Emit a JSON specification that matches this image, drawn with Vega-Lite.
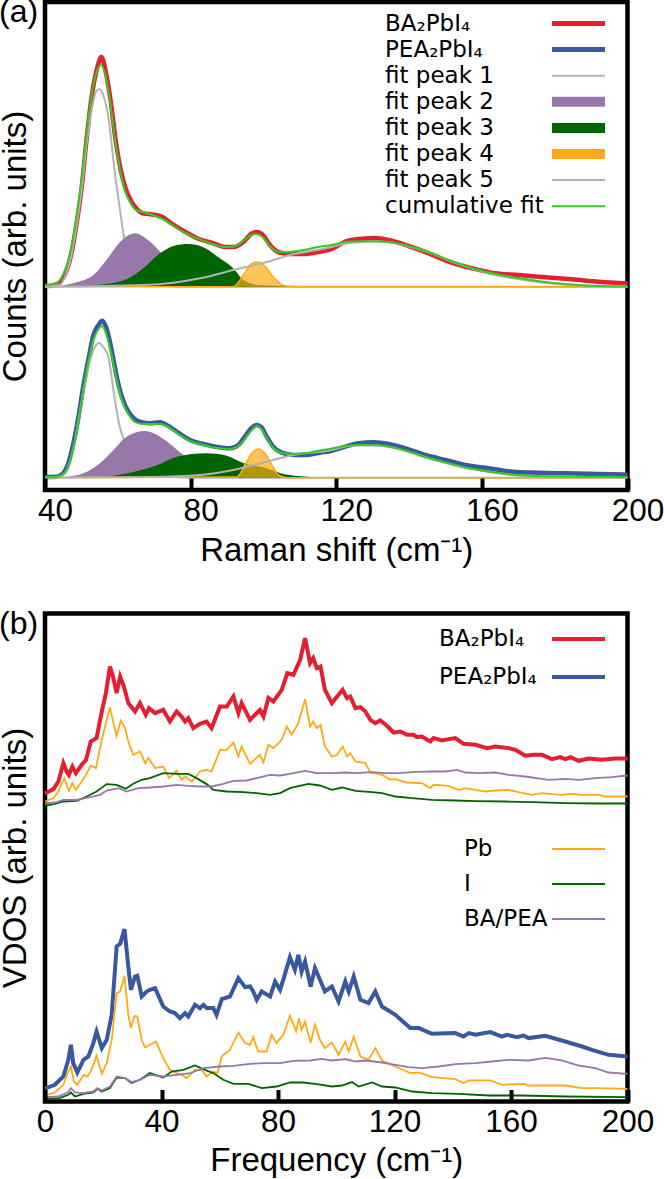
{"$schema":"https://vega.github.io/schema/vega-lite/v6.json","background":"white","padding":{"left":-4,"top":-7,"right":0,"bottom":0},"bounds":"flush","spacing":123.5,"resolve":{"scale":{"color":"independent","stroke":"independent"},"legend":{"color":"independent","stroke":"independent"}},"config":{"view":{"stroke":"black","strokeWidth":4.5},"axis":{"labelFont":"Liberation Sans","titleFont":"Liberation Sans","labelFontSize":31.5,"titleFontSize":33,"titleFontWeight":"normal","labelColor":"black","titleColor":"black","grid":false,"domain":false,"ticks":true,"tickColor":"black","tickWidth":4,"tickSize":12,"labelPadding":5},"legend":{"labelFont":"DejaVu Sans","labelFontSize":23,"labelColor":"black","labelAlign":"left","labelLimit":400,"symbolType":"stroke","title":null}},"vconcat":[{"width":582.5,"height":488,"title":{"text":"(a)","anchor":"start","frame":"group","font":"Liberation Sans","fontSize":32,"fontWeight":"normal","color":"black","baseline":"top","dx":-46,"dy":27,"offset":0},"data":{"values":[
{"s":"BA₂PbI₄","b":"u","x":40,"y":204},{"s":"BA₂PbI₄","b":"u","x":41,"y":204},{"s":"BA₂PbI₄","b":"u","x":42.7,"y":205},{"s":"BA₂PbI₄","b":"u","x":44.6,"y":210},{"s":"BA₂PbI₄","b":"u","x":46,"y":220},{"s":"BA₂PbI₄","b":"u","x":47.3,"y":237},{"s":"BA₂PbI₄","b":"u","x":48.7,"y":267},{"s":"BA₂PbI₄","b":"u","x":50.1,"y":303},{"s":"BA₂PbI₄","b":"u","x":51.4,"y":350},{"s":"BA₂PbI₄","b":"u","x":52.8,"y":393},{"s":"BA₂PbI₄","b":"u","x":54.2,"y":420},{"s":"BA₂PbI₄","b":"u","x":55.5,"y":433},{"s":"BA₂PbI₄","b":"u","x":56.8,"y":416},{"s":"BA₂PbI₄","b":"u","x":58,"y":390},{"s":"BA₂PbI₄","b":"u","x":59.4,"y":350},{"s":"BA₂PbI₄","b":"u","x":60.8,"y":320},{"s":"BA₂PbI₄","b":"u","x":62.1,"y":302},{"s":"BA₂PbI₄","b":"u","x":63.5,"y":290},{"s":"BA₂PbI₄","b":"u","x":65,"y":282},{"s":"BA₂PbI₄","b":"u","x":67,"y":276.5},{"s":"BA₂PbI₄","b":"u","x":69.5,"y":275.5},{"s":"BA₂PbI₄","b":"u","x":72.3,"y":273},{"s":"BA₂PbI₄","b":"u","x":75,"y":266},{"s":"BA₂PbI₄","b":"u","x":78.6,"y":258},{"s":"BA₂PbI₄","b":"u","x":82.3,"y":251},{"s":"BA₂PbI₄","b":"u","x":86,"y":247},{"s":"BA₂PbI₄","b":"u","x":89.6,"y":243},{"s":"BA₂PbI₄","b":"u","x":92,"y":243},{"s":"BA₂PbI₄","b":"u","x":94.5,"y":248},{"s":"BA₂PbI₄","b":"u","x":96.6,"y":256},{"s":"BA₂PbI₄","b":"u","x":98.2,"y":258},{"s":"BA₂PbI₄","b":"u","x":100,"y":254.5},{"s":"BA₂PbI₄","b":"u","x":101.8,"y":245},{"s":"BA₂PbI₄","b":"u","x":104,"y":238},{"s":"BA₂PbI₄","b":"u","x":107.3,"y":236},{"s":"BA₂PbI₄","b":"u","x":111,"y":236},{"s":"BA₂PbI₄","b":"u","x":114.6,"y":237.7},{"s":"BA₂PbI₄","b":"u","x":118.8,"y":241},{"s":"BA₂PbI₄","b":"u","x":122.5,"y":248.3},{"s":"BA₂PbI₄","b":"u","x":127.1,"y":251.3},{"s":"BA₂PbI₄","b":"u","x":130.8,"y":252},{"s":"BA₂PbI₄","b":"u","x":134.4,"y":250},{"s":"BA₂PbI₄","b":"u","x":139.9,"y":244},{"s":"BA₂PbI₄","b":"u","x":145.4,"y":236.7},{"s":"BA₂PbI₄","b":"u","x":150.9,"y":228.3},{"s":"BA₂PbI₄","b":"u","x":157.3,"y":221.7},{"s":"BA₂PbI₄","b":"u","x":163.7,"y":216.7},{"s":"BA₂PbI₄","b":"u","x":170.1,"y":215},{"s":"BA₂PbI₄","b":"u","x":177.5,"y":212.7},{"s":"BA₂PbI₄","b":"u","x":184.8,"y":210.7},{"s":"BA₂PbI₄","b":"u","x":192.1,"y":208.3},{"s":"BA₂PbI₄","b":"u","x":200,"y":206.5},
{"s":"PEA₂PbI₄","b":"l","x":40,"y":13},{"s":"PEA₂PbI₄","b":"l","x":43.2,"y":13.3},{"s":"PEA₂PbI₄","b":"l","x":45,"y":16.7},{"s":"PEA₂PbI₄","b":"l","x":46.4,"y":26.7},{"s":"PEA₂PbI₄","b":"l","x":47.8,"y":46.7},{"s":"PEA₂PbI₄","b":"l","x":49.2,"y":73.3},{"s":"PEA₂PbI₄","b":"l","x":50.5,"y":103.3},{"s":"PEA₂PbI₄","b":"l","x":51.9,"y":130},{"s":"PEA₂PbI₄","b":"l","x":53.3,"y":155},{"s":"PEA₂PbI₄","b":"l","x":54.7,"y":165},{"s":"PEA₂PbI₄","b":"l","x":55.7,"y":169.3},{"s":"PEA₂PbI₄","b":"l","x":56.9,"y":161.7},{"s":"PEA₂PbI₄","b":"l","x":58.3,"y":140},{"s":"PEA₂PbI₄","b":"l","x":59.7,"y":113.3},{"s":"PEA₂PbI₄","b":"l","x":61.1,"y":93.3},{"s":"PEA₂PbI₄","b":"l","x":62.9,"y":78.3},{"s":"PEA₂PbI₄","b":"l","x":64.7,"y":70.7},{"s":"PEA₂PbI₄","b":"l","x":66.6,"y":67.7},{"s":"PEA₂PbI₄","b":"l","x":68.8,"y":66.7},{"s":"PEA₂PbI₄","b":"l","x":71.6,"y":67.7},{"s":"PEA₂PbI₄","b":"l","x":73.9,"y":64},{"s":"PEA₂PbI₄","b":"l","x":76.6,"y":57.3},{"s":"PEA₂PbI₄","b":"l","x":79.8,"y":50},{"s":"PEA₂PbI₄","b":"l","x":83.5,"y":46},{"s":"PEA₂PbI₄","b":"l","x":87.2,"y":43},{"s":"PEA₂PbI₄","b":"l","x":90.8,"y":41.7},{"s":"PEA₂PbI₄","b":"l","x":93.1,"y":45},{"s":"PEA₂PbI₄","b":"l","x":94.9,"y":53.3},{"s":"PEA₂PbI₄","b":"l","x":96.8,"y":62.3},{"s":"PEA₂PbI₄","b":"l","x":98.2,"y":65},{"s":"PEA₂PbI₄","b":"l","x":99.5,"y":62.7},{"s":"PEA₂PbI₄","b":"l","x":100.9,"y":53.3},{"s":"PEA₂PbI₄","b":"l","x":102.7,"y":43.3},{"s":"PEA₂PbI₄","b":"l","x":105,"y":37.3},{"s":"PEA₂PbI₄","b":"l","x":108.2,"y":35},{"s":"PEA₂PbI₄","b":"l","x":111.9,"y":35},{"s":"PEA₂PbI₄","b":"l","x":115.5,"y":37.3},{"s":"PEA₂PbI₄","b":"l","x":118.8,"y":39.3},{"s":"PEA₂PbI₄","b":"l","x":122.5,"y":43.3},{"s":"PEA₂PbI₄","b":"l","x":126.2,"y":46.7},{"s":"PEA₂PbI₄","b":"l","x":130.3,"y":47.7},{"s":"PEA₂PbI₄","b":"l","x":134.4,"y":46},{"s":"PEA₂PbI₄","b":"l","x":139,"y":41.7},{"s":"PEA₂PbI₄","b":"l","x":144.5,"y":35},{"s":"PEA₂PbI₄","b":"l","x":150,"y":30},{"s":"PEA₂PbI₄","b":"l","x":155.5,"y":25},{"s":"PEA₂PbI₄","b":"l","x":161.9,"y":21.7},{"s":"PEA₂PbI₄","b":"l","x":168.3,"y":18.3},{"s":"PEA₂PbI₄","b":"l","x":175.6,"y":17.3},{"s":"PEA₂PbI₄","b":"l","x":183,"y":16.7},{"s":"PEA₂PbI₄","b":"l","x":192.1,"y":16},{"s":"PEA₂PbI₄","b":"l","x":200,"y":15.3},
{"s":"fit peak 1","b":"u","x":40,"y":203.3},{"s":"fit peak 1","b":"u","x":44,"y":205},{"s":"fit peak 1","b":"u","x":46,"y":218},{"s":"fit peak 1","b":"u","x":47.3,"y":235},{"s":"fit peak 1","b":"u","x":48.7,"y":265},{"s":"fit peak 1","b":"u","x":50.1,"y":300},{"s":"fit peak 1","b":"u","x":51.4,"y":345},{"s":"fit peak 1","b":"u","x":52.8,"y":380},{"s":"fit peak 1","b":"u","x":54,"y":398},{"s":"fit peak 1","b":"u","x":54.9,"y":401},{"s":"fit peak 1","b":"u","x":56,"y":395},{"s":"fit peak 1","b":"u","x":57.4,"y":373},{"s":"fit peak 1","b":"u","x":59.2,"y":317},{"s":"fit peak 1","b":"u","x":60.6,"y":280},{"s":"fit peak 1","b":"u","x":61.7,"y":253},{"s":"fit peak 1","b":"u","x":65,"y":218},{"s":"fit peak 1","b":"u","x":68,"y":208},{"s":"fit peak 1","b":"u","x":72,"y":204},{"s":"fit peak 1","b":"u","x":80,"y":203.3},{"s":"fit peak 1","b":"u","x":200,"y":203.3},
{"s":"fit peak 1","b":"l","x":40,"y":12.3},{"s":"fit peak 1","b":"l","x":43,"y":13},{"s":"fit peak 1","b":"l","x":45,"y":15},{"s":"fit peak 1","b":"l","x":46.4,"y":24},{"s":"fit peak 1","b":"l","x":47.8,"y":42},{"s":"fit peak 1","b":"l","x":49.2,"y":70},{"s":"fit peak 1","b":"l","x":50.5,"y":97},{"s":"fit peak 1","b":"l","x":52.4,"y":130},{"s":"fit peak 1","b":"l","x":53.7,"y":143},{"s":"fit peak 1","b":"l","x":54.9,"y":147},{"s":"fit peak 1","b":"l","x":56,"y":143},{"s":"fit peak 1","b":"l","x":57.4,"y":133},{"s":"fit peak 1","b":"l","x":59.2,"y":90},{"s":"fit peak 1","b":"l","x":60.6,"y":62},{"s":"fit peak 1","b":"l","x":61.7,"y":50},{"s":"fit peak 1","b":"l","x":64,"y":35},{"s":"fit peak 1","b":"l","x":67,"y":22},{"s":"fit peak 1","b":"l","x":72,"y":14},{"s":"fit peak 1","b":"l","x":80,"y":12.3},{"s":"fit peak 1","b":"l","x":200,"y":12.3},
{"s":"fit peak 2","b":"u","base":203.3,"x":40,"y":203.3},{"s":"fit peak 2","b":"u","base":203.3,"x":43.7,"y":204},{"s":"fit peak 2","b":"u","base":203.3,"x":48.7,"y":207.7},{"s":"fit peak 2","b":"u","base":203.3,"x":53.3,"y":215},{"s":"fit peak 2","b":"u","base":203.3,"x":56.9,"y":230},{"s":"fit peak 2","b":"u","base":203.3,"x":60.6,"y":248},{"s":"fit peak 2","b":"u","base":203.3,"x":64.7,"y":256.7},{"s":"fit peak 2","b":"u","base":203.3,"x":68.3,"y":250},{"s":"fit peak 2","b":"u","base":203.3,"x":72,"y":236.7},{"s":"fit peak 2","b":"u","base":203.3,"x":75,"y":225},{"s":"fit peak 2","b":"u","base":203.3,"x":80,"y":209},{"s":"fit peak 2","b":"u","base":203.3,"x":85,"y":204},{"s":"fit peak 2","b":"u","base":203.3,"x":90,"y":203.3},
{"s":"fit peak 2","b":"l","base":12.3,"x":40,"y":12.3},{"s":"fit peak 2","b":"l","base":12.3,"x":46,"y":13.3},{"s":"fit peak 2","b":"l","base":12.3,"x":50.5,"y":16.7},{"s":"fit peak 2","b":"l","base":12.3,"x":55.1,"y":26.7},{"s":"fit peak 2","b":"l","base":12.3,"x":58.8,"y":40},{"s":"fit peak 2","b":"l","base":12.3,"x":62.4,"y":53.3},{"s":"fit peak 2","b":"l","base":12.3,"x":67.5,"y":59},{"s":"fit peak 2","b":"l","base":12.3,"x":71.6,"y":53.3},{"s":"fit peak 2","b":"l","base":12.3,"x":75.3,"y":43.3},{"s":"fit peak 2","b":"l","base":12.3,"x":78,"y":35},{"s":"fit peak 2","b":"l","base":12.3,"x":82,"y":24},{"s":"fit peak 2","b":"l","base":12.3,"x":86,"y":16},{"s":"fit peak 2","b":"l","base":12.3,"x":90,"y":13},{"s":"fit peak 2","b":"l","base":12.3,"x":95,"y":12.3},
{"s":"fit peak 3","b":"u","base":203.3,"x":40,"y":203.3},{"s":"fit peak 3","b":"u","base":203.3,"x":54.2,"y":205},{"s":"fit peak 3","b":"u","base":203.3,"x":62.4,"y":210.7},{"s":"fit peak 3","b":"u","base":203.3,"x":67,"y":221.7},{"s":"fit peak 3","b":"u","base":203.3,"x":71.6,"y":236.7},{"s":"fit peak 3","b":"u","base":203.3,"x":75.3,"y":244},{"s":"fit peak 3","b":"u","base":203.3,"x":79.4,"y":246},{"s":"fit peak 3","b":"u","base":203.3,"x":83.5,"y":242.7},{"s":"fit peak 3","b":"u","base":203.3,"x":88,"y":231.7},{"s":"fit peak 3","b":"u","base":203.3,"x":91.7,"y":221.7},{"s":"fit peak 3","b":"u","base":203.3,"x":94.5,"y":210},{"s":"fit peak 3","b":"u","base":203.3,"x":99,"y":205},{"s":"fit peak 3","b":"u","base":203.3,"x":106.4,"y":204},{"s":"fit peak 3","b":"u","base":203.3,"x":115,"y":203.3},
{"s":"fit peak 3","b":"l","base":12.3,"x":40,"y":12.3},{"s":"fit peak 3","b":"l","base":12.3,"x":55,"y":13},{"s":"fit peak 3","b":"l","base":12.3,"x":64.3,"y":18},{"s":"fit peak 3","b":"l","base":12.3,"x":70.7,"y":24.7},{"s":"fit peak 3","b":"l","base":12.3,"x":76.2,"y":33.3},{"s":"fit peak 3","b":"l","base":12.3,"x":84.4,"y":36.7},{"s":"fit peak 3","b":"l","base":12.3,"x":89.9,"y":34.3},{"s":"fit peak 3","b":"l","base":12.3,"x":94.5,"y":27},{"s":"fit peak 3","b":"l","base":12.3,"x":100.9,"y":21.7},{"s":"fit peak 3","b":"l","base":12.3,"x":105.5,"y":16},{"s":"fit peak 3","b":"l","base":12.3,"x":111.9,"y":13.3},{"s":"fit peak 3","b":"l","base":12.3,"x":119,"y":12.3},
{"s":"fit peak 4","b":"u","base":203.3,"x":40,"y":203.3},{"s":"fit peak 4","b":"u","base":203.3,"x":91.7,"y":203.3},{"s":"fit peak 4","b":"u","base":203.3,"x":94.5,"y":215},{"s":"fit peak 4","b":"u","base":203.3,"x":96.3,"y":225},{"s":"fit peak 4","b":"u","base":203.3,"x":98.3,"y":228},{"s":"fit peak 4","b":"u","base":203.3,"x":100.4,"y":224},{"s":"fit peak 4","b":"u","base":203.3,"x":102.7,"y":213},{"s":"fit peak 4","b":"u","base":203.3,"x":106,"y":204},{"s":"fit peak 4","b":"u","base":203.3,"x":110,"y":203.3},{"s":"fit peak 4","b":"u","base":203.3,"x":200,"y":203.3},
{"s":"fit peak 4","b":"l","base":12.3,"x":40,"y":12.3},{"s":"fit peak 4","b":"l","base":12.3,"x":92.7,"y":13},{"s":"fit peak 4","b":"l","base":12.3,"x":94.9,"y":25},{"s":"fit peak 4","b":"l","base":12.3,"x":96.8,"y":36.7},{"s":"fit peak 4","b":"l","base":12.3,"x":98.6,"y":41},{"s":"fit peak 4","b":"l","base":12.3,"x":100.4,"y":36.7},{"s":"fit peak 4","b":"l","base":12.3,"x":102.3,"y":25},{"s":"fit peak 4","b":"l","base":12.3,"x":104.1,"y":15},{"s":"fit peak 4","b":"l","base":12.3,"x":106.4,"y":12.3},{"s":"fit peak 4","b":"l","base":12.3,"x":200,"y":12.3},
{"s":"fit peak 5","b":"u","x":40,"y":203.3},{"s":"fit peak 5","b":"u","x":67,"y":205},{"s":"fit peak 5","b":"u","x":75.3,"y":207.3},{"s":"fit peak 5","b":"u","x":82.6,"y":211.7},{"s":"fit peak 5","b":"u","x":91.7,"y":220},{"s":"fit peak 5","b":"u","x":100.9,"y":228},{"s":"fit peak 5","b":"u","x":107.3,"y":235},{"s":"fit peak 5","b":"u","x":118.8,"y":243},{"s":"fit peak 5","b":"u","x":122.5,"y":246.5},{"s":"fit peak 5","b":"u","x":127,"y":248},{"s":"fit peak 5","b":"u","x":131,"y":248.5},{"s":"fit peak 5","b":"u","x":134.4,"y":247.7},{"s":"fit peak 5","b":"u","x":139.9,"y":243.5},{"s":"fit peak 5","b":"u","x":145.4,"y":237.5},{"s":"fit peak 5","b":"u","x":150.9,"y":229.5},{"s":"fit peak 5","b":"u","x":157.3,"y":221.5},{"s":"fit peak 5","b":"u","x":163.7,"y":215},{"s":"fit peak 5","b":"u","x":170,"y":211},{"s":"fit peak 5","b":"u","x":177.5,"y":207},{"s":"fit peak 5","b":"u","x":184.8,"y":205},{"s":"fit peak 5","b":"u","x":192,"y":204},{"s":"fit peak 5","b":"u","x":200,"y":203.5},
{"s":"fit peak 5","b":"l","x":40,"y":12.3},{"s":"fit peak 5","b":"l","x":68.8,"y":13},{"s":"fit peak 5","b":"l","x":82.6,"y":15},{"s":"fit peak 5","b":"l","x":91.7,"y":20},{"s":"fit peak 5","b":"l","x":100.9,"y":28.3},{"s":"fit peak 5","b":"l","x":108.2,"y":35},{"s":"fit peak 5","b":"l","x":118.8,"y":40},{"s":"fit peak 5","b":"l","x":122.5,"y":43.5},{"s":"fit peak 5","b":"l","x":126.2,"y":44.5},{"s":"fit peak 5","b":"l","x":130.3,"y":44.5},{"s":"fit peak 5","b":"l","x":134.4,"y":43},{"s":"fit peak 5","b":"l","x":139,"y":39},{"s":"fit peak 5","b":"l","x":144.5,"y":32.5},{"s":"fit peak 5","b":"l","x":150,"y":27},{"s":"fit peak 5","b":"l","x":155.5,"y":22},{"s":"fit peak 5","b":"l","x":162,"y":18},{"s":"fit peak 5","b":"l","x":168,"y":15},{"s":"fit peak 5","b":"l","x":175.6,"y":13.5},{"s":"fit peak 5","b":"l","x":183,"y":13},{"s":"fit peak 5","b":"l","x":192,"y":12.5},{"s":"fit peak 5","b":"l","x":200,"y":12.3},
{"s":"cumulative fit","b":"u","x":40,"y":205},{"s":"cumulative fit","b":"u","x":42.7,"y":206},{"s":"cumulative fit","b":"u","x":44.6,"y":213},{"s":"cumulative fit","b":"u","x":46,"y":225},{"s":"cumulative fit","b":"u","x":47.3,"y":244},{"s":"cumulative fit","b":"u","x":48.7,"y":274},{"s":"cumulative fit","b":"u","x":50.1,"y":312},{"s":"cumulative fit","b":"u","x":51.4,"y":355},{"s":"cumulative fit","b":"u","x":52.8,"y":395},{"s":"cumulative fit","b":"u","x":54.2,"y":418},{"s":"cumulative fit","b":"u","x":55.3,"y":425},{"s":"cumulative fit","b":"u","x":56.8,"y":412},{"s":"cumulative fit","b":"u","x":58,"y":385},{"s":"cumulative fit","b":"u","x":59.4,"y":347},{"s":"cumulative fit","b":"u","x":60.8,"y":317},{"s":"cumulative fit","b":"u","x":62.1,"y":298},{"s":"cumulative fit","b":"u","x":63.5,"y":287},{"s":"cumulative fit","b":"u","x":65,"y":280},{"s":"cumulative fit","b":"u","x":67,"y":278},{"s":"cumulative fit","b":"u","x":69.5,"y":275},{"s":"cumulative fit","b":"u","x":72.3,"y":271},{"s":"cumulative fit","b":"u","x":75,"y":265},{"s":"cumulative fit","b":"u","x":78.6,"y":257},{"s":"cumulative fit","b":"u","x":82.3,"y":251},{"s":"cumulative fit","b":"u","x":86,"y":246},{"s":"cumulative fit","b":"u","x":89.6,"y":243},{"s":"cumulative fit","b":"u","x":92,"y":243.5},{"s":"cumulative fit","b":"u","x":94.5,"y":249},{"s":"cumulative fit","b":"u","x":96.6,"y":255},{"s":"cumulative fit","b":"u","x":98,"y":256},{"s":"cumulative fit","b":"u","x":100,"y":252},{"s":"cumulative fit","b":"u","x":101.8,"y":244},{"s":"cumulative fit","b":"u","x":104,"y":238},{"s":"cumulative fit","b":"u","x":107,"y":238},{"s":"cumulative fit","b":"u","x":111,"y":240},{"s":"cumulative fit","b":"u","x":115,"y":243},{"s":"cumulative fit","b":"u","x":118.8,"y":245},{"s":"cumulative fit","b":"u","x":122.5,"y":248},{"s":"cumulative fit","b":"u","x":127,"y":248.7},{"s":"cumulative fit","b":"u","x":130.8,"y":248.7},{"s":"cumulative fit","b":"u","x":134.4,"y":248},{"s":"cumulative fit","b":"u","x":139.9,"y":244},{"s":"cumulative fit","b":"u","x":145.4,"y":238},{"s":"cumulative fit","b":"u","x":150.9,"y":230},{"s":"cumulative fit","b":"u","x":157.3,"y":222},{"s":"cumulative fit","b":"u","x":163.7,"y":216},{"s":"cumulative fit","b":"u","x":170.1,"y":212},{"s":"cumulative fit","b":"u","x":177.5,"y":208},{"s":"cumulative fit","b":"u","x":184.8,"y":205.5},{"s":"cumulative fit","b":"u","x":192.1,"y":204},{"s":"cumulative fit","b":"u","x":200,"y":203.5},
{"s":"cumulative fit","b":"l","x":40,"y":12.7},{"s":"cumulative fit","b":"l","x":43.2,"y":13.3},{"s":"cumulative fit","b":"l","x":45,"y":16},{"s":"cumulative fit","b":"l","x":46.4,"y":23},{"s":"cumulative fit","b":"l","x":47.8,"y":42},{"s":"cumulative fit","b":"l","x":49.2,"y":70},{"s":"cumulative fit","b":"l","x":50.5,"y":100},{"s":"cumulative fit","b":"l","x":51.9,"y":128},{"s":"cumulative fit","b":"l","x":53.3,"y":150},{"s":"cumulative fit","b":"l","x":54.7,"y":161},{"s":"cumulative fit","b":"l","x":55.7,"y":164},{"s":"cumulative fit","b":"l","x":56.9,"y":155},{"s":"cumulative fit","b":"l","x":58.3,"y":135},{"s":"cumulative fit","b":"l","x":59.7,"y":110},{"s":"cumulative fit","b":"l","x":61.1,"y":90},{"s":"cumulative fit","b":"l","x":62.9,"y":76},{"s":"cumulative fit","b":"l","x":64.7,"y":68},{"s":"cumulative fit","b":"l","x":66.6,"y":66},{"s":"cumulative fit","b":"l","x":68.8,"y":66},{"s":"cumulative fit","b":"l","x":71.6,"y":66},{"s":"cumulative fit","b":"l","x":73.9,"y":63},{"s":"cumulative fit","b":"l","x":76.6,"y":56},{"s":"cumulative fit","b":"l","x":79.8,"y":49},{"s":"cumulative fit","b":"l","x":83.5,"y":45},{"s":"cumulative fit","b":"l","x":87.2,"y":42},{"s":"cumulative fit","b":"l","x":90.8,"y":41},{"s":"cumulative fit","b":"l","x":93.1,"y":44},{"s":"cumulative fit","b":"l","x":94.9,"y":51},{"s":"cumulative fit","b":"l","x":96.8,"y":60},{"s":"cumulative fit","b":"l","x":98.2,"y":64},{"s":"cumulative fit","b":"l","x":99.5,"y":61},{"s":"cumulative fit","b":"l","x":100.9,"y":52},{"s":"cumulative fit","b":"l","x":102.7,"y":42},{"s":"cumulative fit","b":"l","x":105,"y":37},{"s":"cumulative fit","b":"l","x":108.2,"y":36},{"s":"cumulative fit","b":"l","x":111.9,"y":37},{"s":"cumulative fit","b":"l","x":115.5,"y":39.5},{"s":"cumulative fit","b":"l","x":118.8,"y":41.5},{"s":"cumulative fit","b":"l","x":122.5,"y":44},{"s":"cumulative fit","b":"l","x":126.2,"y":45},{"s":"cumulative fit","b":"l","x":130.3,"y":45},{"s":"cumulative fit","b":"l","x":134.4,"y":43.5},{"s":"cumulative fit","b":"l","x":139,"y":39.5},{"s":"cumulative fit","b":"l","x":144.5,"y":33},{"s":"cumulative fit","b":"l","x":150,"y":27.5},{"s":"cumulative fit","b":"l","x":155.5,"y":22.5},{"s":"cumulative fit","b":"l","x":161.9,"y":18.5},{"s":"cumulative fit","b":"l","x":168.3,"y":15.5},{"s":"cumulative fit","b":"l","x":175.6,"y":14},{"s":"cumulative fit","b":"l","x":183,"y":13.5},{"s":"cumulative fit","b":"l","x":192.1,"y":13.3},{"s":"cumulative fit","b":"l","x":200,"y":13}
]},"encoding":{"x":{"field":"x","type":"quantitative","scale":{"domain":[40,200],"nice":false,"zero":false},"axis":{"title":"Raman shift (cm⁻¹)","values":[40,80,120,160,200],"labelOffset":10,"labelFlush":false,"labelOverlap":false,"titlePadding":8,"offset":-12,"zindex":1}},"y":{"field":"y","type":"quantitative","scale":{"domain":[0,488],"nice":false,"zero":false},"axis":{"title":"Counts (arb. units)","labels":false,"ticks":false,"titlePadding":13}},"detail":{"field":"b"},"color":{"field":"s","type":"nominal","scale":{"domain":["BA₂PbI₄","PEA₂PbI₄","fit peak 1","fit peak 2","fit peak 3","fit peak 4","fit peak 5","cumulative fit"],"range":["#e41f2f","#38589f","#b3b3b3","#9878aa","#006400","#ffaa15","#b3b3b3","#32cd20"]},"legend":{"orient":"none","legendX":522,"legendY":10,"symbolSize":100,"rowPadding":2.1,"labelOffset":-205,"padding":0,"encode":{"symbols":{"update":{"size":{"value":2809},"strokeJoin":{"value":"round"},"stroke":{"signal":"{'BA₂PbI₄':'#e41f2f','PEA₂PbI₄':'#38589f','fit peak 1':'#b3b3b3','fit peak 2':'#9878aa','fit peak 3':'#006400','fit peak 4':'#ffaa15','fit peak 5':'#b3b3b3','cumulative fit':'#32cd20'}[datum.value]"},"strokeWidth":{"signal":"indexof(['fit peak 2','fit peak 3','fit peak 4'],datum.value)>=0?10:(indexof(['BA₂PbI₄','PEA₂PbI₄'],datum.value)>=0?5:2)"},"opacity":{"value":1}}}}}}},"layer":[{"data":{"values":[{"x":80},{"x":120},{"x":160}]},"mark":{"type":"rule","strokeWidth":4},"encoding":{"y":{"datum":0},"y2":{"datum":12},"color":{"value":"black"},"detail":{"value":"t"}}},{"transform":[{"filter":"datum.s=='BA₂PbI₄'||datum.s=='PEA₂PbI₄'"}],"mark":{"type":"line","strokeWidth":4.5,"interpolate":"monotone"}},{"transform":[{"filter":"datum.s=='fit peak 1'"}],"mark":{"type":"line","strokeWidth":2,"interpolate":"monotone"}},{"transform":[{"filter":"datum.s=='fit peak 2'"}],"mark":{"type":"area","interpolate":"monotone"},"encoding":{"y2":{"field":"base"}}},{"transform":[{"filter":"datum.s=='fit peak 3'"}],"mark":{"type":"area","interpolate":"monotone"},"encoding":{"y2":{"field":"base"}}},{"transform":[{"filter":"datum.s=='fit peak 4'"}],"mark":{"type":"area","interpolate":"monotone","line":{"strokeWidth":1.5}},"encoding":{"y2":{"field":"base"}}},{"transform":[{"filter":"datum.s=='fit peak 5'"}],"mark":{"type":"line","strokeWidth":2,"interpolate":"monotone"}},{"transform":[{"filter":"datum.s=='cumulative fit'"}],"mark":{"type":"line","strokeWidth":2,"interpolate":"monotone"}}]},
{"width":582.5,"height":488,"title":{"text":"(b)","anchor":"start","frame":"group","font":"Liberation Sans","fontSize":32,"fontWeight":"normal","color":"black","baseline":"top","dx":-46,"dy":27,"offset":0},"data":{"values":[
{"s":"BA₂PbI₄","b":"u","x":0,"y":308},{"s":"BA₂PbI₄","b":"u","x":2.9,"y":312.4},{"s":"BA₂PbI₄","b":"u","x":4.6,"y":320},{"s":"BA₂PbI₄","b":"u","x":6.3,"y":338.4},{"s":"BA₂PbI₄","b":"u","x":7.4,"y":330},{"s":"BA₂PbI₄","b":"u","x":8.2,"y":326.7},{"s":"BA₂PbI₄","b":"u","x":9.4,"y":335},{"s":"BA₂PbI₄","b":"u","x":10.6,"y":328.4},{"s":"BA₂PbI₄","b":"u","x":12.6,"y":336.7},{"s":"BA₂PbI₄","b":"u","x":14.1,"y":341.7},{"s":"BA₂PbI₄","b":"u","x":15.7,"y":360},{"s":"BA₂PbI₄","b":"u","x":17.7,"y":363.4},{"s":"BA₂PbI₄","b":"u","x":19.5,"y":390},{"s":"BA₂PbI₄","b":"u","x":20.9,"y":408.4},{"s":"BA₂PbI₄","b":"u","x":22.3,"y":435},{"s":"BA₂PbI₄","b":"u","x":23.2,"y":426.7},{"s":"BA₂PbI₄","b":"u","x":24.6,"y":408.4},{"s":"BA₂PbI₄","b":"u","x":25.8,"y":425},{"s":"BA₂PbI₄","b":"u","x":27.1,"y":415},{"s":"BA₂PbI₄","b":"u","x":28.6,"y":398.4},{"s":"BA₂PbI₄","b":"u","x":30.9,"y":390},{"s":"BA₂PbI₄","b":"u","x":32.6,"y":398.4},{"s":"BA₂PbI₄","b":"u","x":34.6,"y":386.7},{"s":"BA₂PbI₄","b":"u","x":35.7,"y":393.4},{"s":"BA₂PbI₄","b":"u","x":37.8,"y":388.4},{"s":"BA₂PbI₄","b":"u","x":40.6,"y":391.7},{"s":"BA₂PbI₄","b":"u","x":42.9,"y":380},{"s":"BA₂PbI₄","b":"u","x":45.2,"y":390},{"s":"BA₂PbI₄","b":"u","x":46.9,"y":385},{"s":"BA₂PbI₄","b":"u","x":48.1,"y":380},{"s":"BA₂PbI₄","b":"u","x":49.2,"y":383.4},{"s":"BA₂PbI₄","b":"u","x":50.9,"y":373.4},{"s":"BA₂PbI₄","b":"u","x":53.2,"y":377.7},{"s":"BA₂PbI₄","b":"u","x":55.5,"y":380},{"s":"BA₂PbI₄","b":"u","x":57.2,"y":373.4},{"s":"BA₂PbI₄","b":"u","x":60.1,"y":395},{"s":"BA₂PbI₄","b":"u","x":62.4,"y":395},{"s":"BA₂PbI₄","b":"u","x":64.7,"y":405},{"s":"BA₂PbI₄","b":"u","x":66.4,"y":388.4},{"s":"BA₂PbI₄","b":"u","x":67.5,"y":398.4},{"s":"BA₂PbI₄","b":"u","x":70.4,"y":381.7},{"s":"BA₂PbI₄","b":"u","x":73.8,"y":391.7},{"s":"BA₂PbI₄","b":"u","x":75,"y":385},{"s":"BA₂PbI₄","b":"u","x":76.7,"y":403.4},{"s":"BA₂PbI₄","b":"u","x":78.4,"y":400},{"s":"BA₂PbI₄","b":"u","x":81.3,"y":411.7},{"s":"BA₂PbI₄","b":"u","x":83.2,"y":428.4},{"s":"BA₂PbI₄","b":"u","x":85.3,"y":426.7},{"s":"BA₂PbI₄","b":"u","x":87.6,"y":441.7},{"s":"BA₂PbI₄","b":"u","x":89.3,"y":463.4},{"s":"BA₂PbI₄","b":"u","x":91,"y":438.4},{"s":"BA₂PbI₄","b":"u","x":92.1,"y":443.4},{"s":"BA₂PbI₄","b":"u","x":93.3,"y":433.4},{"s":"BA₂PbI₄","b":"u","x":94.6,"y":435},{"s":"BA₂PbI₄","b":"u","x":96.1,"y":411.7},{"s":"BA₂PbI₄","b":"u","x":98.5,"y":398.4},{"s":"BA₂PbI₄","b":"u","x":100.3,"y":405},{"s":"BA₂PbI₄","b":"u","x":102.2,"y":411.7},{"s":"BA₂PbI₄","b":"u","x":103.7,"y":403.4},{"s":"BA₂PbI₄","b":"u","x":104.8,"y":405},{"s":"BA₂PbI₄","b":"u","x":106.6,"y":393.4},{"s":"BA₂PbI₄","b":"u","x":108.3,"y":394.4},{"s":"BA₂PbI₄","b":"u","x":110,"y":390},{"s":"BA₂PbI₄","b":"u","x":111.7,"y":381.7},{"s":"BA₂PbI₄","b":"u","x":113.4,"y":378.4},{"s":"BA₂PbI₄","b":"u","x":115.1,"y":381},{"s":"BA₂PbI₄","b":"u","x":117.4,"y":375.7},{"s":"BA₂PbI₄","b":"u","x":119.7,"y":369},{"s":"BA₂PbI₄","b":"u","x":122,"y":370},{"s":"BA₂PbI₄","b":"u","x":124.3,"y":366.7},{"s":"BA₂PbI₄","b":"u","x":126.6,"y":366.7},{"s":"BA₂PbI₄","b":"u","x":127.7,"y":364.4},{"s":"BA₂PbI₄","b":"u","x":129.4,"y":365},{"s":"BA₂PbI₄","b":"u","x":132.3,"y":360},{"s":"BA₂PbI₄","b":"u","x":133.4,"y":363.4},{"s":"BA₂PbI₄","b":"u","x":136.3,"y":361},{"s":"BA₂PbI₄","b":"u","x":138.6,"y":362.4},{"s":"BA₂PbI₄","b":"u","x":140.9,"y":363.4},{"s":"BA₂PbI₄","b":"u","x":143.7,"y":357.7},{"s":"BA₂PbI₄","b":"u","x":147.8,"y":356.7},{"s":"BA₂PbI₄","b":"u","x":151.8,"y":353.4},{"s":"BA₂PbI₄","b":"u","x":154.6,"y":355},{"s":"BA₂PbI₄","b":"u","x":159.2,"y":353.4},{"s":"BA₂PbI₄","b":"u","x":161.5,"y":351.7},{"s":"BA₂PbI₄","b":"u","x":164.9,"y":345.7},{"s":"BA₂PbI₄","b":"u","x":167.8,"y":346.7},{"s":"BA₂PbI₄","b":"u","x":170.6,"y":346.7},{"s":"BA₂PbI₄","b":"u","x":174.1,"y":342.4},{"s":"BA₂PbI₄","b":"u","x":176.9,"y":344.4},{"s":"BA₂PbI₄","b":"u","x":178.7,"y":342.4},{"s":"BA₂PbI₄","b":"u","x":180.4,"y":344.4},{"s":"BA₂PbI₄","b":"u","x":183.2,"y":340.7},{"s":"BA₂PbI₄","b":"u","x":186.7,"y":343},{"s":"BA₂PbI₄","b":"u","x":191.2,"y":341.7},{"s":"BA₂PbI₄","b":"u","x":195.8,"y":343},{"s":"BA₂PbI₄","b":"u","x":200,"y":343},
{"s":"PEA₂PbI₄","b":"l","x":0,"y":13},{"s":"PEA₂PbI₄","b":"l","x":3.4,"y":16.7},{"s":"PEA₂PbI₄","b":"l","x":6.3,"y":25},{"s":"PEA₂PbI₄","b":"l","x":8,"y":41.7},{"s":"PEA₂PbI₄","b":"l","x":8.9,"y":56.7},{"s":"PEA₂PbI₄","b":"l","x":9.7,"y":38.4},{"s":"PEA₂PbI₄","b":"l","x":11.1,"y":29},{"s":"PEA₂PbI₄","b":"l","x":13.2,"y":41.7},{"s":"PEA₂PbI₄","b":"l","x":14.9,"y":45},{"s":"PEA₂PbI₄","b":"l","x":16.6,"y":58.4},{"s":"PEA₂PbI₄","b":"l","x":17.7,"y":70},{"s":"PEA₂PbI₄","b":"l","x":19.5,"y":53.4},{"s":"PEA₂PbI₄","b":"l","x":21.2,"y":61.7},{"s":"PEA₂PbI₄","b":"l","x":22.9,"y":86.7},{"s":"PEA₂PbI₄","b":"l","x":24.6,"y":155},{"s":"PEA₂PbI₄","b":"l","x":25.8,"y":157.7},{"s":"PEA₂PbI₄","b":"l","x":27.3,"y":172.4},{"s":"PEA₂PbI₄","b":"l","x":28.6,"y":135},{"s":"PEA₂PbI₄","b":"l","x":29.5,"y":111.7},{"s":"PEA₂PbI₄","b":"l","x":30.9,"y":125},{"s":"PEA₂PbI₄","b":"l","x":31.7,"y":125.7},{"s":"PEA₂PbI₄","b":"l","x":33.2,"y":105},{"s":"PEA₂PbI₄","b":"l","x":34.9,"y":110},{"s":"PEA₂PbI₄","b":"l","x":36,"y":111.7},{"s":"PEA₂PbI₄","b":"l","x":37.8,"y":113.4},{"s":"PEA₂PbI₄","b":"l","x":40.6,"y":95},{"s":"PEA₂PbI₄","b":"l","x":42.9,"y":90},{"s":"PEA₂PbI₄","b":"l","x":44.6,"y":88.4},{"s":"PEA₂PbI₄","b":"l","x":46.3,"y":83.4},{"s":"PEA₂PbI₄","b":"l","x":48.1,"y":88.4},{"s":"PEA₂PbI₄","b":"l","x":49.2,"y":85},{"s":"PEA₂PbI₄","b":"l","x":51.5,"y":96.7},{"s":"PEA₂PbI₄","b":"l","x":53.2,"y":93.4},{"s":"PEA₂PbI₄","b":"l","x":54.4,"y":96.7},{"s":"PEA₂PbI₄","b":"l","x":55.5,"y":93.4},{"s":"PEA₂PbI₄","b":"l","x":57.8,"y":93.4},{"s":"PEA₂PbI₄","b":"l","x":58.9,"y":86.7},{"s":"PEA₂PbI₄","b":"l","x":60.7,"y":102.4},{"s":"PEA₂PbI₄","b":"l","x":63.5,"y":105},{"s":"PEA₂PbI₄","b":"l","x":66.4,"y":123.4},{"s":"PEA₂PbI₄","b":"l","x":68.7,"y":114.4},{"s":"PEA₂PbI₄","b":"l","x":70.4,"y":115},{"s":"PEA₂PbI₄","b":"l","x":71.5,"y":110},{"s":"PEA₂PbI₄","b":"l","x":72.7,"y":101.7},{"s":"PEA₂PbI₄","b":"l","x":74.4,"y":110},{"s":"PEA₂PbI₄","b":"l","x":77.3,"y":105},{"s":"PEA₂PbI₄","b":"l","x":79,"y":120},{"s":"PEA₂PbI₄","b":"l","x":80.7,"y":111.7},{"s":"PEA₂PbI₄","b":"l","x":81.8,"y":121.7},{"s":"PEA₂PbI₄","b":"l","x":84.1,"y":144.4},{"s":"PEA₂PbI₄","b":"l","x":85.8,"y":131.7},{"s":"PEA₂PbI₄","b":"l","x":87,"y":146.7},{"s":"PEA₂PbI₄","b":"l","x":88.1,"y":130},{"s":"PEA₂PbI₄","b":"l","x":89.3,"y":140},{"s":"PEA₂PbI₄","b":"l","x":91.2,"y":115},{"s":"PEA₂PbI₄","b":"l","x":92.7,"y":133.4},{"s":"PEA₂PbI₄","b":"l","x":94.4,"y":121.7},{"s":"PEA₂PbI₄","b":"l","x":96.1,"y":110},{"s":"PEA₂PbI₄","b":"l","x":98.5,"y":115},{"s":"PEA₂PbI₄","b":"l","x":100.8,"y":100},{"s":"PEA₂PbI₄","b":"l","x":103.1,"y":120},{"s":"PEA₂PbI₄","b":"l","x":104.3,"y":110},{"s":"PEA₂PbI₄","b":"l","x":106,"y":125},{"s":"PEA₂PbI₄","b":"l","x":108.3,"y":101.7},{"s":"PEA₂PbI₄","b":"l","x":111.1,"y":98.4},{"s":"PEA₂PbI₄","b":"l","x":113.4,"y":110},{"s":"PEA₂PbI₄","b":"l","x":115.7,"y":95},{"s":"PEA₂PbI₄","b":"l","x":120.3,"y":86.7},{"s":"PEA₂PbI₄","b":"l","x":125.4,"y":73.4},{"s":"PEA₂PbI₄","b":"l","x":128.3,"y":73.4},{"s":"PEA₂PbI₄","b":"l","x":132.9,"y":67.7},{"s":"PEA₂PbI₄","b":"l","x":140.9,"y":68.4},{"s":"PEA₂PbI₄","b":"l","x":143.7,"y":65},{"s":"PEA₂PbI₄","b":"l","x":145.5,"y":68.4},{"s":"PEA₂PbI₄","b":"l","x":147.8,"y":66.7},{"s":"PEA₂PbI₄","b":"l","x":152.9,"y":69.4},{"s":"PEA₂PbI₄","b":"l","x":156.9,"y":65},{"s":"PEA₂PbI₄","b":"l","x":158.6,"y":66.7},{"s":"PEA₂PbI₄","b":"l","x":162,"y":64.4},{"s":"PEA₂PbI₄","b":"l","x":164.4,"y":66},{"s":"PEA₂PbI₄","b":"l","x":166,"y":63.4},{"s":"PEA₂PbI₄","b":"l","x":171.8,"y":65.7},{"s":"PEA₂PbI₄","b":"l","x":178.6,"y":60},{"s":"PEA₂PbI₄","b":"l","x":184.4,"y":55},{"s":"PEA₂PbI₄","b":"l","x":187.8,"y":51.7},{"s":"PEA₂PbI₄","b":"l","x":193.5,"y":46.7},{"s":"PEA₂PbI₄","b":"l","x":200,"y":45},
{"s":"Pb","b":"u","x":0,"y":300},{"s":"Pb","b":"u","x":2.9,"y":303.4},{"s":"Pb","b":"u","x":4.6,"y":310},{"s":"Pb","b":"u","x":6.6,"y":323.4},{"s":"Pb","b":"u","x":8.2,"y":310.7},{"s":"Pb","b":"u","x":9.4,"y":318.4},{"s":"Pb","b":"u","x":10.6,"y":311.7},{"s":"Pb","b":"u","x":12.6,"y":320},{"s":"Pb","b":"u","x":14.1,"y":326.7},{"s":"Pb","b":"u","x":15.7,"y":336},{"s":"Pb","b":"u","x":17.5,"y":333.4},{"s":"Pb","b":"u","x":19.5,"y":361.7},{"s":"Pb","b":"u","x":20.9,"y":378.4},{"s":"Pb","b":"u","x":22.3,"y":394.4},{"s":"Pb","b":"u","x":23.5,"y":378.4},{"s":"Pb","b":"u","x":24.6,"y":365.7},{"s":"Pb","b":"u","x":26,"y":381},{"s":"Pb","b":"u","x":27.5,"y":373.4},{"s":"Pb","b":"u","x":28.6,"y":360},{"s":"Pb","b":"u","x":30.3,"y":346.7},{"s":"Pb","b":"u","x":32.6,"y":350},{"s":"Pb","b":"u","x":34.4,"y":338.4},{"s":"Pb","b":"u","x":35.5,"y":343.4},{"s":"Pb","b":"u","x":37.8,"y":333.4},{"s":"Pb","b":"u","x":40.6,"y":335},{"s":"Pb","b":"u","x":42.6,"y":323.4},{"s":"Pb","b":"u","x":45.2,"y":331},{"s":"Pb","b":"u","x":46.9,"y":321.7},{"s":"Pb","b":"u","x":48.1,"y":325},{"s":"Pb","b":"u","x":50.4,"y":320},{"s":"Pb","b":"u","x":53.2,"y":330},{"s":"Pb","b":"u","x":55.5,"y":331.7},{"s":"Pb","b":"u","x":57.2,"y":330},{"s":"Pb","b":"u","x":60.1,"y":351.7},{"s":"Pb","b":"u","x":62.4,"y":351.7},{"s":"Pb","b":"u","x":64.7,"y":359},{"s":"Pb","b":"u","x":66.4,"y":345},{"s":"Pb","b":"u","x":67.5,"y":355},{"s":"Pb","b":"u","x":70.4,"y":337.7},{"s":"Pb","b":"u","x":73.8,"y":346.7},{"s":"Pb","b":"u","x":75,"y":339},{"s":"Pb","b":"u","x":76.7,"y":356.7},{"s":"Pb","b":"u","x":78.4,"y":353.4},{"s":"Pb","b":"u","x":81.3,"y":361.7},{"s":"Pb","b":"u","x":83,"y":375},{"s":"Pb","b":"u","x":84.7,"y":366.7},{"s":"Pb","b":"u","x":87,"y":378.4},{"s":"Pb","b":"u","x":89.3,"y":402.4},{"s":"Pb","b":"u","x":91,"y":375},{"s":"Pb","b":"u","x":92.1,"y":380},{"s":"Pb","b":"u","x":93.3,"y":373.4},{"s":"Pb","b":"u","x":94.6,"y":376.7},{"s":"Pb","b":"u","x":96.1,"y":355},{"s":"Pb","b":"u","x":98.5,"y":345},{"s":"Pb","b":"u","x":100.3,"y":346.7},{"s":"Pb","b":"u","x":102.2,"y":355},{"s":"Pb","b":"u","x":103.7,"y":345},{"s":"Pb","b":"u","x":104.8,"y":348.4},{"s":"Pb","b":"u","x":106.6,"y":340},{"s":"Pb","b":"u","x":110,"y":338.4},{"s":"Pb","b":"u","x":111.7,"y":329},{"s":"Pb","b":"u","x":115.7,"y":326.7},{"s":"Pb","b":"u","x":118.6,"y":321.7},{"s":"Pb","b":"u","x":120.3,"y":322.4},{"s":"Pb","b":"u","x":124.3,"y":319},{"s":"Pb","b":"u","x":129.4,"y":318.4},{"s":"Pb","b":"u","x":132.3,"y":313.4},{"s":"Pb","b":"u","x":133.4,"y":316.7},{"s":"Pb","b":"u","x":138.6,"y":315.7},{"s":"Pb","b":"u","x":142,"y":311.7},{"s":"Pb","b":"u","x":144.3,"y":313.4},{"s":"Pb","b":"u","x":147.8,"y":311.7},{"s":"Pb","b":"u","x":151.2,"y":310},{"s":"Pb","b":"u","x":154.6,"y":311},{"s":"Pb","b":"u","x":159.2,"y":311.7},{"s":"Pb","b":"u","x":162.6,"y":309.4},{"s":"Pb","b":"u","x":167.2,"y":306.7},{"s":"Pb","b":"u","x":170.6,"y":308.4},{"s":"Pb","b":"u","x":174.1,"y":307.4},{"s":"Pb","b":"u","x":177.5,"y":306.7},{"s":"Pb","b":"u","x":180.4,"y":307.7},{"s":"Pb","b":"u","x":184.4,"y":306.7},{"s":"Pb","b":"u","x":190.1,"y":306.7},{"s":"Pb","b":"u","x":192.4,"y":305},{"s":"Pb","b":"u","x":200,"y":305},
{"s":"I","b":"u","x":0,"y":295.7},{"s":"I","b":"u","x":3.4,"y":297.7},{"s":"I","b":"u","x":6.3,"y":300},{"s":"I","b":"u","x":10.9,"y":300.7},{"s":"I","b":"u","x":14.3,"y":305},{"s":"I","b":"u","x":17.7,"y":310},{"s":"I","b":"u","x":21.2,"y":317.4},{"s":"I","b":"u","x":24.6,"y":316.7},{"s":"I","b":"u","x":27.8,"y":312.7},{"s":"I","b":"u","x":30.3,"y":317.7},{"s":"I","b":"u","x":33.2,"y":321.7},{"s":"I","b":"u","x":36,"y":323.4},{"s":"I","b":"u","x":40.6,"y":328.4},{"s":"I","b":"u","x":45.2,"y":327.7},{"s":"I","b":"u","x":49.2,"y":327.7},{"s":"I","b":"u","x":52,"y":323.4},{"s":"I","b":"u","x":55.5,"y":317.4},{"s":"I","b":"u","x":57.8,"y":311.7},{"s":"I","b":"u","x":62.4,"y":310},{"s":"I","b":"u","x":68.1,"y":309.4},{"s":"I","b":"u","x":72.7,"y":308.4},{"s":"I","b":"u","x":77.3,"y":306.7},{"s":"I","b":"u","x":80.7,"y":308.4},{"s":"I","b":"u","x":84.1,"y":313.4},{"s":"I","b":"u","x":90.4,"y":317.7},{"s":"I","b":"u","x":94.4,"y":316},{"s":"I","b":"u","x":98.5,"y":311.7},{"s":"I","b":"u","x":102,"y":314},{"s":"I","b":"u","x":106.6,"y":310.7},{"s":"I","b":"u","x":112.3,"y":309.4},{"s":"I","b":"u","x":115.7,"y":308.4},{"s":"I","b":"u","x":120.3,"y":305},{"s":"I","b":"u","x":126,"y":303.4},{"s":"I","b":"u","x":132.9,"y":301.7},{"s":"I","b":"u","x":140.9,"y":301},{"s":"I","b":"u","x":147.8,"y":300.4},{"s":"I","b":"u","x":158,"y":300},{"s":"I","b":"u","x":167.2,"y":299.4},{"s":"I","b":"u","x":178.7,"y":298.4},{"s":"I","b":"u","x":190.1,"y":298},{"s":"I","b":"u","x":200,"y":298},
{"s":"BA/PEA","b":"u","x":0,"y":298},{"s":"BA/PEA","b":"u","x":3.4,"y":299},{"s":"BA/PEA","b":"u","x":6.3,"y":301.7},{"s":"BA/PEA","b":"u","x":10.9,"y":301.7},{"s":"BA/PEA","b":"u","x":15.5,"y":304.4},{"s":"BA/PEA","b":"u","x":18.9,"y":306.7},{"s":"BA/PEA","b":"u","x":21.2,"y":311},{"s":"BA/PEA","b":"u","x":25.2,"y":313.4},{"s":"BA/PEA","b":"u","x":28,"y":310},{"s":"BA/PEA","b":"u","x":32,"y":313.4},{"s":"BA/PEA","b":"u","x":36,"y":314},{"s":"BA/PEA","b":"u","x":40.6,"y":315},{"s":"BA/PEA","b":"u","x":45.2,"y":316.7},{"s":"BA/PEA","b":"u","x":49.2,"y":315.7},{"s":"BA/PEA","b":"u","x":53.2,"y":315},{"s":"BA/PEA","b":"u","x":57.2,"y":315},{"s":"BA/PEA","b":"u","x":61.2,"y":317.7},{"s":"BA/PEA","b":"u","x":64.7,"y":320.7},{"s":"BA/PEA","b":"u","x":69.2,"y":321},{"s":"BA/PEA","b":"u","x":72.7,"y":323.4},{"s":"BA/PEA","b":"u","x":77.3,"y":326.7},{"s":"BA/PEA","b":"u","x":80.7,"y":326},{"s":"BA/PEA","b":"u","x":84.1,"y":327.7},{"s":"BA/PEA","b":"u","x":89.3,"y":330.7},{"s":"BA/PEA","b":"u","x":93.3,"y":328.4},{"s":"BA/PEA","b":"u","x":98.5,"y":328.4},{"s":"BA/PEA","b":"u","x":103,"y":329},{"s":"BA/PEA","b":"u","x":106.6,"y":328.4},{"s":"BA/PEA","b":"u","x":112.3,"y":329.4},{"s":"BA/PEA","b":"u","x":116.9,"y":328.4},{"s":"BA/PEA","b":"u","x":121.4,"y":328.4},{"s":"BA/PEA","b":"u","x":127.2,"y":329.7},{"s":"BA/PEA","b":"u","x":132.9,"y":330},{"s":"BA/PEA","b":"u","x":137.5,"y":330},{"s":"BA/PEA","b":"u","x":141.5,"y":331.7},{"s":"BA/PEA","b":"u","x":144.3,"y":329},{"s":"BA/PEA","b":"u","x":148.9,"y":328.4},{"s":"BA/PEA","b":"u","x":154.6,"y":329},{"s":"BA/PEA","b":"u","x":159.2,"y":326.7},{"s":"BA/PEA","b":"u","x":164.9,"y":325},{"s":"BA/PEA","b":"u","x":172.9,"y":321.7},{"s":"BA/PEA","b":"u","x":178.7,"y":322.7},{"s":"BA/PEA","b":"u","x":183.2,"y":321.7},{"s":"BA/PEA","b":"u","x":188.9,"y":323.4},{"s":"BA/PEA","b":"u","x":194.7,"y":324.4},{"s":"BA/PEA","b":"u","x":200,"y":326},
{"s":"Pb","b":"l","x":0,"y":6},{"s":"Pb","b":"l","x":3.4,"y":9},{"s":"Pb","b":"l","x":6.3,"y":16.7},{"s":"Pb","b":"l","x":8,"y":30},{"s":"Pb","b":"l","x":8.9,"y":35},{"s":"Pb","b":"l","x":9.9,"y":20},{"s":"Pb","b":"l","x":11.1,"y":16.7},{"s":"Pb","b":"l","x":13.2,"y":26.7},{"s":"Pb","b":"l","x":14.6,"y":25},{"s":"Pb","b":"l","x":16,"y":31.7},{"s":"Pb","b":"l","x":17.7,"y":45.7},{"s":"Pb","b":"l","x":19.5,"y":27.7},{"s":"Pb","b":"l","x":21.2,"y":38.4},{"s":"Pb","b":"l","x":22.9,"y":61.7},{"s":"Pb","b":"l","x":24.6,"y":108.4},{"s":"Pb","b":"l","x":25.8,"y":110},{"s":"Pb","b":"l","x":27.3,"y":125.7},{"s":"Pb","b":"l","x":28.6,"y":86.7},{"s":"Pb","b":"l","x":29.5,"y":73.4},{"s":"Pb","b":"l","x":30.7,"y":85.7},{"s":"Pb","b":"l","x":31.7,"y":85},{"s":"Pb","b":"l","x":33.2,"y":61.7},{"s":"Pb","b":"l","x":34.3,"y":54},{"s":"Pb","b":"l","x":36,"y":56.7},{"s":"Pb","b":"l","x":38.1,"y":60},{"s":"Pb","b":"l","x":40.6,"y":43.4},{"s":"Pb","b":"l","x":42.9,"y":31.7},{"s":"Pb","b":"l","x":45.2,"y":28.4},{"s":"Pb","b":"l","x":46.9,"y":26.7},{"s":"Pb","b":"l","x":48.6,"y":23.4},{"s":"Pb","b":"l","x":51.5,"y":31.7},{"s":"Pb","b":"l","x":53.8,"y":31.7},{"s":"Pb","b":"l","x":55.5,"y":25},{"s":"Pb","b":"l","x":57.8,"y":30},{"s":"Pb","b":"l","x":59.2,"y":28.4},{"s":"Pb","b":"l","x":60.7,"y":45},{"s":"Pb","b":"l","x":63.5,"y":51.7},{"s":"Pb","b":"l","x":66.4,"y":69},{"s":"Pb","b":"l","x":68.7,"y":58.4},{"s":"Pb","b":"l","x":70.4,"y":56.7},{"s":"Pb","b":"l","x":71.5,"y":64.4},{"s":"Pb","b":"l","x":73.2,"y":50},{"s":"Pb","b":"l","x":76.1,"y":50},{"s":"Pb","b":"l","x":77.8,"y":66.7},{"s":"Pb","b":"l","x":79.5,"y":58.4},{"s":"Pb","b":"l","x":81.8,"y":66.7},{"s":"Pb","b":"l","x":84.1,"y":85.7},{"s":"Pb","b":"l","x":86.2,"y":70},{"s":"Pb","b":"l","x":87.2,"y":83.4},{"s":"Pb","b":"l","x":88.1,"y":71.7},{"s":"Pb","b":"l","x":89.3,"y":80},{"s":"Pb","b":"l","x":91.2,"y":58.4},{"s":"Pb","b":"l","x":92.7,"y":76.7},{"s":"Pb","b":"l","x":94.4,"y":61.7},{"s":"Pb","b":"l","x":96.1,"y":53.4},{"s":"Pb","b":"l","x":98.5,"y":59},{"s":"Pb","b":"l","x":100.8,"y":46.7},{"s":"Pb","b":"l","x":103.1,"y":60},{"s":"Pb","b":"l","x":104.3,"y":50},{"s":"Pb","b":"l","x":106,"y":65},{"s":"Pb","b":"l","x":108.3,"y":45},{"s":"Pb","b":"l","x":111.1,"y":41.7},{"s":"Pb","b":"l","x":113.4,"y":53.4},{"s":"Pb","b":"l","x":115.7,"y":41},{"s":"Pb","b":"l","x":120.3,"y":35},{"s":"Pb","b":"l","x":125.4,"y":28.4},{"s":"Pb","b":"l","x":128.3,"y":29},{"s":"Pb","b":"l","x":132.9,"y":24.4},{"s":"Pb","b":"l","x":140.9,"y":22.4},{"s":"Pb","b":"l","x":143.7,"y":18.4},{"s":"Pb","b":"l","x":145.5,"y":21},{"s":"Pb","b":"l","x":152.9,"y":21},{"s":"Pb","b":"l","x":156.9,"y":16.7},{"s":"Pb","b":"l","x":164.4,"y":17.7},{"s":"Pb","b":"l","x":166,"y":16},{"s":"Pb","b":"l","x":171.8,"y":16},{"s":"Pb","b":"l","x":178.6,"y":16},{"s":"Pb","b":"l","x":184.4,"y":13.4},{"s":"Pb","b":"l","x":190,"y":13.4},{"s":"Pb","b":"l","x":200,"y":12.7},
{"s":"I","b":"l","x":0,"y":2.7},{"s":"I","b":"l","x":5,"y":3.4},{"s":"I","b":"l","x":8,"y":6.7},{"s":"I","b":"l","x":8.9,"y":9},{"s":"I","b":"l","x":10.3,"y":5},{"s":"I","b":"l","x":13.2,"y":7.7},{"s":"I","b":"l","x":16.6,"y":9},{"s":"I","b":"l","x":18,"y":12.7},{"s":"I","b":"l","x":19.5,"y":10},{"s":"I","b":"l","x":22.3,"y":13.4},{"s":"I","b":"l","x":24.6,"y":24},{"s":"I","b":"l","x":27.5,"y":23.4},{"s":"I","b":"l","x":29.7,"y":18.4},{"s":"I","b":"l","x":32.6,"y":21.7},{"s":"I","b":"l","x":36,"y":28.4},{"s":"I","b":"l","x":40.6,"y":24},{"s":"I","b":"l","x":43.5,"y":30},{"s":"I","b":"l","x":47.5,"y":31.7},{"s":"I","b":"l","x":51.5,"y":36},{"s":"I","b":"l","x":54.9,"y":31.7},{"s":"I","b":"l","x":57.8,"y":28.4},{"s":"I","b":"l","x":61.2,"y":21.7},{"s":"I","b":"l","x":64.7,"y":17.7},{"s":"I","b":"l","x":69.8,"y":17.7},{"s":"I","b":"l","x":74.4,"y":13.4},{"s":"I","b":"l","x":79.5,"y":15},{"s":"I","b":"l","x":84.1,"y":19},{"s":"I","b":"l","x":88.7,"y":19},{"s":"I","b":"l","x":93.3,"y":17.4},{"s":"I","b":"l","x":98.5,"y":15},{"s":"I","b":"l","x":102,"y":16},{"s":"I","b":"l","x":105.4,"y":19.4},{"s":"I","b":"l","x":107.7,"y":15},{"s":"I","b":"l","x":112.3,"y":19},{"s":"I","b":"l","x":115.7,"y":15},{"s":"I","b":"l","x":120.3,"y":14},{"s":"I","b":"l","x":126,"y":10},{"s":"I","b":"l","x":132.9,"y":8.4},{"s":"I","b":"l","x":142,"y":7.7},{"s":"I","b":"l","x":152.4,"y":6},{"s":"I","b":"l","x":163.8,"y":6},{"s":"I","b":"l","x":178.6,"y":5},{"s":"I","b":"l","x":200,"y":4.4},
{"s":"BA/PEA","b":"l","x":0,"y":4.4},{"s":"BA/PEA","b":"l","x":4.6,"y":5},{"s":"BA/PEA","b":"l","x":8,"y":9.4},{"s":"BA/PEA","b":"l","x":8.9,"y":13.4},{"s":"BA/PEA","b":"l","x":10.3,"y":9},{"s":"BA/PEA","b":"l","x":13.2,"y":8.4},{"s":"BA/PEA","b":"l","x":16.6,"y":10},{"s":"BA/PEA","b":"l","x":18,"y":13.4},{"s":"BA/PEA","b":"l","x":19.5,"y":11},{"s":"BA/PEA","b":"l","x":22.3,"y":15},{"s":"BA/PEA","b":"l","x":24.6,"y":25},{"s":"BA/PEA","b":"l","x":27.5,"y":23.4},{"s":"BA/PEA","b":"l","x":29.7,"y":19.4},{"s":"BA/PEA","b":"l","x":32.6,"y":21.7},{"s":"BA/PEA","b":"l","x":36,"y":26.7},{"s":"BA/PEA","b":"l","x":40.6,"y":25},{"s":"BA/PEA","b":"l","x":45.2,"y":26.7},{"s":"BA/PEA","b":"l","x":49.8,"y":28.4},{"s":"BA/PEA","b":"l","x":54.4,"y":33.4},{"s":"BA/PEA","b":"l","x":60.1,"y":35},{"s":"BA/PEA","b":"l","x":64.7,"y":35.7},{"s":"BA/PEA","b":"l","x":70.4,"y":37.7},{"s":"BA/PEA","b":"l","x":75,"y":38.4},{"s":"BA/PEA","b":"l","x":80.7,"y":38.4},{"s":"BA/PEA","b":"l","x":85.3,"y":40.7},{"s":"BA/PEA","b":"l","x":91,"y":41},{"s":"BA/PEA","b":"l","x":95,"y":42.7},{"s":"BA/PEA","b":"l","x":98.5,"y":41},{"s":"BA/PEA","b":"l","x":103.1,"y":42.4},{"s":"BA/PEA","b":"l","x":106.6,"y":40},{"s":"BA/PEA","b":"l","x":110,"y":41},{"s":"BA/PEA","b":"l","x":115.7,"y":39},{"s":"BA/PEA","b":"l","x":120.3,"y":36.7},{"s":"BA/PEA","b":"l","x":124.9,"y":34.4},{"s":"BA/PEA","b":"l","x":129.4,"y":33.4},{"s":"BA/PEA","b":"l","x":135.2,"y":35},{"s":"BA/PEA","b":"l","x":140.9,"y":37.4},{"s":"BA/PEA","b":"l","x":147.8,"y":38.4},{"s":"BA/PEA","b":"l","x":153.5,"y":40},{"s":"BA/PEA","b":"l","x":159.2,"y":41.7},{"s":"BA/PEA","b":"l","x":166,"y":41},{"s":"BA/PEA","b":"l","x":171.8,"y":43.7},{"s":"BA/PEA","b":"l","x":177.5,"y":41},{"s":"BA/PEA","b":"l","x":183.2,"y":36},{"s":"BA/PEA","b":"l","x":188.9,"y":33.4},{"s":"BA/PEA","b":"l","x":193.5,"y":29},{"s":"BA/PEA","b":"l","x":200,"y":27.7}
]},"encoding":{"x":{"field":"x","type":"quantitative","scale":{"domain":[0,200],"nice":false,"zero":false},"axis":{"title":"Frequency (cm⁻¹)","values":[0,40,80,120,160,200],"labelFlush":false,"labelOverlap":false,"titlePadding":6,"offset":-12,"zindex":1}},"y":{"field":"y","type":"quantitative","scale":{"domain":[0,488],"nice":false,"zero":false},"axis":{"title":"VDOS (arb. units)","labels":false,"ticks":false,"titlePadding":13}},"detail":{"field":"b"}},"layer":[{"data":{"values":[{"x":40},{"x":80},{"x":120},{"x":160}]},"mark":{"type":"rule","strokeWidth":4,"color":"black"},"encoding":{"y":{"datum":0},"y2":{"datum":12},"detail":{"value":"t"}}},{"transform":[{"filter":"datum.s=='BA₂PbI₄'||datum.s=='PEA₂PbI₄'"}],"mark":{"type":"line","strokeWidth":4},"encoding":{"stroke":{"field":"s","type":"nominal","scale":{"domain":["BA₂PbI₄","PEA₂PbI₄"],"range":["#e41f2f","#38589f"]},"legend":{"orient":"none","legendX":522,"legendY":14,"symbolSize":100,"rowPadding":14,"labelOffset":-151,"padding":0,"encode":{"symbols":{"update":{"size":{"signal":"2809"},"strokeJoin":{"value":"round"},"stroke":{"signal":"datum.value=='BA₂PbI₄'?'#e41f2f':'#38589f'"},"strokeWidth":{"signal":"datum.value=='x'?1:4"},"opacity":{"value":1}}}}}}}},{"transform":[{"filter":"datum.s=='Pb'||datum.s=='I'||datum.s=='BA/PEA'"}],"mark":{"type":"line","strokeWidth":1.8},"encoding":{"color":{"field":"s","type":"nominal","scale":{"domain":["Pb","I","BA/PEA"],"range":["#ffaa15","#006400","#9878aa"]},"legend":{"orient":"none","legendX":522,"legendY":224,"symbolSize":100,"rowPadding":11,"labelOffset":-126,"padding":0,"encode":{"symbols":{"update":{"size":{"value":2809},"strokeJoin":{"value":"round"},"stroke":{"signal":"datum.value=='Pb'?'#ffaa15':(datum.value=='I'?'#006400':'#9878aa')"},"strokeWidth":{"signal":"datum.value=='x'?1:2"},"opacity":{"value":1}}}}}}}}]}
]}
